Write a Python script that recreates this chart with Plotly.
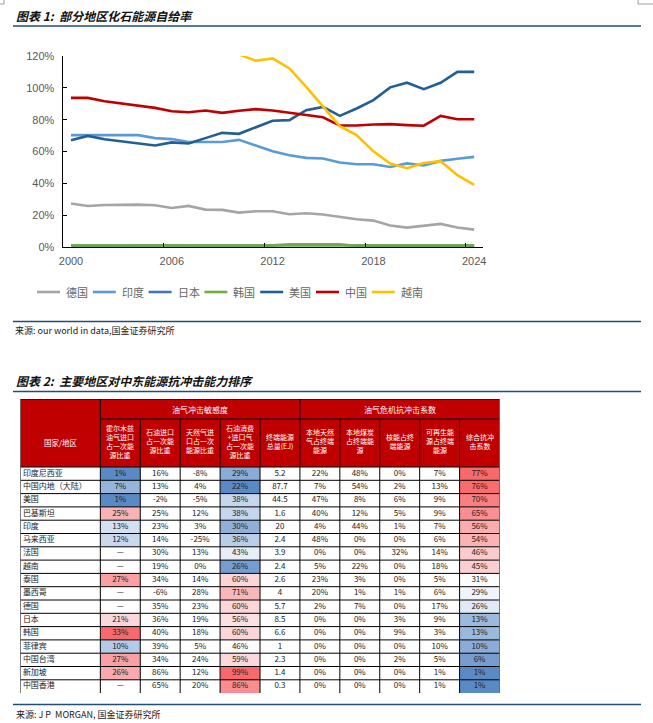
import plotly.graph_objects as go
import numpy as np

W, H = 653, 723


def px(x):
    return x / W


def py(y):
    return 1 - y / H


# ---------------- Chart 1 data: fossil energy self-sufficiency (%) ----------------
years = [str(y) for y in range(2000, 2025)]
germany = [27.3, 25.8, 26.4, 26.6, 26.6, 26.2, 24.5, 25.8, 23.5, 23.3, 21.6, 22.5, 22.5,
           20.6, 21.2, 20.4, 18.9, 17.4, 16.6, 13.5, 12.2, 13.5, 14.5, 12.2, 10.9]
india = [70.3, 70.3, 70.3, 70.3, 70.3, 68.4, 67.8, 66.0, 66.0, 66.0, 67.3, 63.8, 60.2,
         57.7, 56.0, 55.6, 53.1, 52.0, 52.0, 50.3, 52.5, 51.2, 54.1, 55.4, 56.6]
japan = [0.8, 0.8, 0.8, 0.8, 0.8, 0.8, 0.8, 0.8, 0.8, 0.8, 0.8, 0.8, 1.0,
         1.6, 1.7, 1.7, 1.6, 0.8, 0.6, 0.6, 0.6, 0.6, 0.6, 0.6, 0.6]
korea = [1.0, 1.0, 1.0, 1.0, 1.0, 1.0, 1.0, 1.0, 1.0, 1.0, 1.0, 1.0, 1.0,
         1.0, 1.0, 1.0, 1.0, 1.0, 1.0, 1.0, 1.0, 1.0, 1.0, 1.0, 1.0]
usa = [67.1, 69.8, 67.7, 66.5, 65.0, 63.8, 65.7, 65.0, 68.4, 71.7, 71.1, 75.1, 79.3,
       79.7, 86.0, 88.0, 82.4, 87.0, 92.3, 100.3, 103.2, 99.2, 103.2, 110.0, 110.0]
china = [93.7, 93.7, 91.6, 90.2, 88.9, 87.4, 85.3, 84.7, 85.8, 84.3, 85.6, 86.6, 85.8,
         84.5, 82.8, 81.5, 76.3, 76.3, 77.0, 77.2, 76.6, 76.2, 82.4, 80.3, 80.3]
vietnam = [None, None, None, None, None, None, None, None, None, None, 121.0, 117.0, 118.5,
           112.2, 100.6, 88.5, 75.9, 70.3, 60.2, 52.5, 49.5, 52.8, 53.9, 45.1, 39.0]
series_names = ["德国", "印度", "日本", "韩国", "美国", "中国", "越南"]
series_values = [germany, india, japan, korea, usa, china, vietnam]
series_colors = ["#A5A5A5", "#5B9BD5", "#4472C4", "#70AD47", "#255E91", "#C00000", "#FFC000"]
x_tick_labels = ["2000", "2006", "2012", "2018", "2024"]

# ---------------- Table data ----------------
countries = ["印度尼西亚", "中国内地（大陆）", "美国", "巴基斯坦", "印度", "马来西亚", "法国", "越南",
             "泰国", "墨西哥", "德国", "日本", "韩国", "菲律宾", "中国台湾", "新加坡", "中国香港"]
hormuz_share = [1, 7, 1, 25, 13, 12, None, None, 27, None, None, 21, 33, 10, 27, 26, None]
oil_import_share = [16, 13, -2, 25, 23, 14, 30, 19, 34, -6, 35, 36, 40, 39, 34, 86, 65]
gas_import_share = [-8, 4, -5, 12, 3, -25, 13, 0, 14, 28, 23, 19, 18, 5, 24, 12, 20]
oil_gas_import_share = [29, 22, 38, 38, 30, 36, 43, 26, 60, 71, 60, 56, 60, 46, 59, 99, 86]
final_energy_ej = [5.2, 87.7, 44.5, 1.6, 20, 2.4, 3.9, 2.4, 2.6, 4, 5.7, 8.5, 6.6, 1, 2.3, 1.4, 0.3]
local_gas_share = [22, 7, 47, 40, 4, 48, 0, 5, 23, 20, 2, 0, 0, 0, 0, 0, 0]
local_coal_share = [48, 54, 8, 12, 44, 0, 0, 22, 3, 1, 7, 0, 0, 0, 0, 0, 0]
nuclear_share = [0, 2, 6, 5, 1, 0, 32, 0, 0, 1, 0, 3, 9, 0, 2, 0, 0]
renewable_share = [7, 13, 9, 9, 7, 6, 14, 18, 5, 6, 17, 9, 3, 10, 5, 1, 1]
resilience_score = [77, 76, 70, 65, 56, 54, 46, 45, 31, 29, 26, 13, 13, 10, 6, 1, 1]

group_headers = ["油气冲击敏感度", "油气危机抗冲击系数"]
country_header = "国家/地区"
column_headers = ["霍尔木兹<br>油气进口<br>占一次能<br>源比重",
                  "石油进口<br>占一次能<br>源比重",
                  "天然气进<br>口占一次<br>能源比重",
                  "石油消费<br>+进口气<br>占一次能<br>源比重",
                  "终端能源<br>总量(EJ)",
                  "本地天然<br>气占终端<br>能源",
                  "本地煤炭<br>占终端能<br>源",
                  "核能占终<br>端能源",
                  "可再生能<br>源占终端<br>能源",
                  "综合抗冲<br>击系数"]

CJK = "Noto Sans CJK SC"
fig = go.Figure()

# ---------------- line chart ----------------
for name, vals, color in zip(series_names, series_values, series_colors):
    fig.add_trace(go.Scatter(x=years, y=vals, name=name, mode="lines",
                             line=dict(color=color, width=2.6),
                             xaxis="x", yaxis="y", showlegend=False,
                             hoverinfo="skip"))

# ---------------- table ----------------
HEAD1, HEAD2, ROW = 20.0, 48.0, 13.3
n_rows = len(countries)
row_edges = [HEAD1 + HEAD2 + k * ROW for k in range(n_rows + 1)]
row_centers = [(row_edges[k] + row_edges[k + 1]) / 2 for k in range(n_rows)]
col_edges = [0, 2] + list(range(3, 13))
TOTAL_H = row_edges[-1]

# header background
fig.add_trace(go.Heatmap(x=col_edges, y=[0, HEAD1, HEAD1 + HEAD2],
                         z=[[1] * 11, [1] * 11], zmin=0, zmax=1,
                         colorscale=[[0, "#C00000"], [1, "#C00000"]],
                         showscale=False, hoverinfo="skip", xaxis="x2", yaxis="y2"))


def excel_scale(vals):
    arr = [v for v in vals if v is not None]
    lo, hi, mid = min(arr), max(arr), float(np.median(arr))
    p = (mid - lo) / (hi - lo)
    return lo, hi, [[0, "#5A8AC6"], [p, "#FCFCFF"], [1, "#F8696B"]]


for col_idx, vals in [(1, hormuz_share), (4, oil_gas_import_share), (10, resilience_score)]:
    lo, hi, cs = excel_scale(vals)
    left = col_edges[col_idx]
    fig.add_trace(go.Heatmap(x=[left, left + 1], y=row_edges,
                             z=[[v] for v in vals], zmin=lo, zmax=hi, colorscale=cs,
                             showscale=False, hoverinfo="skip", xaxis="x2", yaxis="y2"))

data_cols = [hormuz_share, oil_import_share, gas_import_share, oil_gas_import_share,
             final_energy_ej, local_gas_share, local_coal_share, nuclear_share,
             renewable_share, resilience_score]
for j, vals in enumerate(data_cols):
    if vals is final_energy_ej:
        texts = [f"{v:g}" for v in vals]
    else:
        texts = ["—" if v is None else f"{v}%" for v in vals]
    cx = col_edges[j + 1] + 0.5
    fig.add_trace(go.Scatter(x=[cx] * n_rows, y=row_centers, mode="text", text=texts,
                             textposition="middle center",
                             textfont=dict(family=CJK, size=8, color="#222222"),
                             xaxis="x2", yaxis="y2", showlegend=False, hoverinfo="skip"))

fig.add_trace(go.Scatter(x=[0.06] * n_rows, y=row_centers, mode="text", text=countries,
                         textposition="middle right",
                         textfont=dict(family=CJK, size=8, color="#222222"),
                         xaxis="x2", yaxis="y2", showlegend=False, hoverinfo="skip"))

shapes = []
annotations = []


def tline(x0, y0, x1, y1):
    shapes.append(dict(type="line", xref="x2", yref="y2", x0=x0, y0=y0, x1=x1, y1=y1,
                       line=dict(color="black", width=1), layer="above"))


tline(0, 0, 12, 0)
tline(0, 0, 0, TOTAL_H)
tline(12, 0, 12, TOTAL_H)
tline(2, 0, 2, HEAD1)
tline(7, 0, 7, HEAD1)
tline(2, HEAD1, 12, HEAD1)
for xe in col_edges[1:-1]:
    tline(xe, HEAD1, xe, TOTAL_H)
for ye in row_edges[:-1]:
    tline(0, ye, 12, ye)

# header texts
hdr_font = dict(family=CJK, size=7, color="#FFFFFF")
annotations.append(dict(xref="x2", yref="y2", x=4.5, y=HEAD1 / 2, text=group_headers[0],
                        showarrow=False, font=dict(family=CJK, size=8, color="#FFFFFF")))
annotations.append(dict(xref="x2", yref="y2", x=9.5, y=HEAD1 / 2, text=group_headers[1],
                        showarrow=False, font=dict(family=CJK, size=8, color="#FFFFFF")))
annotations.append(dict(xref="x2", yref="y2", x=1, y=HEAD1 + HEAD2 / 2 - 1, text=country_header,
                        showarrow=False, font=dict(family=CJK, size=7.5, color="#FFFFFF")))
for j, t in enumerate(column_headers):
    annotations.append(dict(xref="x2", yref="y2", x=col_edges[j + 1] + 0.5,
                            y=HEAD1 + HEAD2 / 2 - 2, text=t, showarrow=False,
                            font=hdr_font, align="center"))

# ---------------- page texts and rules ----------------
def rule(y, x0=13, x1=641):
    shapes.append(dict(type="line", xref="paper", yref="paper", x0=px(x0), x1=px(x1),
                       y0=py(y), y1=py(y), line=dict(color="#1F4E79", width=1.5)))


rule(26)
rule(321.5)
rule(391.5)
rule(704.5)


# page corner crop marks
def mark(x0, y0, x1, y1):
    shapes.append(dict(type="line", xref="paper", yref="paper", x0=px(x0), x1=px(x1),
                       y0=py(y0), y1=py(y1), line=dict(color="#A0A0A0", width=1)))


mark(4, 0, 4, 4)
mark(0, 4, 4, 4)
mark(638, 0, 638, 4)
mark(638, 4, 653, 4)

title_font = dict(family=CJK, size=12, color="#111111")
annotations.append(dict(xref="paper", yref="paper", x=px(14), y=py(15), xanchor="left",
                        yanchor="middle", showarrow=False, font=title_font,
                        text="<b><i>图表 1:  部分地区化石能源自给率</i></b>"))
annotations.append(dict(xref="paper", yref="paper", x=px(14), y=py(380.5), xanchor="left",
                        yanchor="middle", showarrow=False, font=title_font,
                        text="<b><i>图表 2:  主要地区对中东能源抗冲击能力排序</i></b>"))
src_font = dict(family=CJK, size=9, color="#222222")
annotations.append(dict(xref="paper", yref="paper", x=px(13), y=py(331), xanchor="left",
                        yanchor="middle", showarrow=False, font=src_font,
                        text="来源: our world in data,国金证券研究所"))
annotations.append(dict(xref="paper", yref="paper", x=px(14), y=py(714), xanchor="left",
                        yanchor="middle", showarrow=False, font=src_font,
                        text="来源: J P  MORGAN, 国金证券研究所"))

# manual legend
for i, (name, color) in enumerate(zip(series_names, series_colors)):
    x0 = 37 + 55.8 * i
    shapes.append(dict(type="line", xref="paper", yref="paper", x0=px(x0), x1=px(x0 + 23),
                       y0=py(292), y1=py(292), line=dict(color=color, width=2.6)))
    annotations.append(dict(xref="paper", yref="paper", x=px(x0 + 27), y=py(292),
                            xanchor="left", yanchor="middle", showarrow=False, text=name,
                            font=dict(family=CJK, size=11, color="#666666")))

tick_font = dict(family="Liberation Sans", size=11, color="#595959")
fig.update_layout(
    width=W, height=H, margin=dict(l=0, r=0, t=0, b=0),
    paper_bgcolor="white", plot_bgcolor="white", showlegend=False,
    xaxis=dict(domain=[px(62.6), px(482.6)], anchor="y", type="category",
               range=[-0.5, 24.5], tickmode="array", tickvals=x_tick_labels,
               ticktext=x_tick_labels, tickson="boundaries", ticks="inside", ticklen=4,
               tickcolor="black", showline=True, linecolor="black", linewidth=1,
               showgrid=False, zeroline=False, tickfont=tick_font, ticklabelstandoff=4,
               tickangle=0, automargin=False),
    yaxis=dict(domain=[py(247), py(56)], anchor="x", range=[0, 120], tick0=0, dtick=20,
               ticksuffix="%", ticks="inside", ticklen=4, tickcolor="black",
               showline=True, linecolor="black", linewidth=1, showgrid=False,
               zeroline=False, tickfont=tick_font, ticklabelstandoff=5, automargin=False),
    xaxis2=dict(domain=[px(20.5), px(499.5)], anchor="y2", range=[0, 12], visible=False,
                fixedrange=True),
    yaxis2=dict(domain=[py(399 + TOTAL_H), py(399)], anchor="x2",
                range=[TOTAL_H, 0], visible=False, fixedrange=True),
    shapes=shapes, annotations=annotations,
)

fig.write_html("out.html", config={"displayModeBar": False},
               post_script="document.body.style.margin='0';")
